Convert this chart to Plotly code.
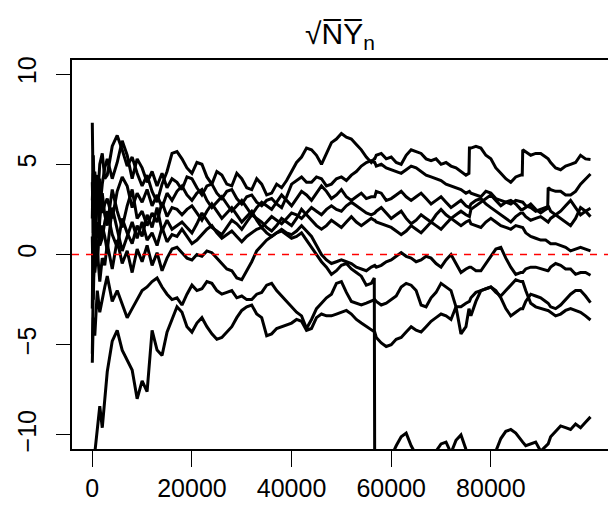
import plotly.graph_objects as go

# sample index n, in thousands (extra pairs mark the sudden jumps)
n_k = ([0, 0.2, 0.5, 1, 1.5, 2, 2.5] + list(range(3, 57)) + [56.6, 56.7]
       + list(range(57, 76)) + [75.6, 75.7] + list(range(76, 87)) + [86.3, 86.4]
       + list(range(87, 92)) + [91.4, 91.5] + list(range(92, 101)))

# sqrt(N) * running mean for each simulated sequence
path_a = ([7.3, 3.0, 4.6, 2.8, 5.0, 5.6, 4.2]
          + [4.4, 6.0, 6.6, 5.8, 4.9, 5.4, 4.5, 3.8, 4.4, 3.5, 2.9, 3.9, 4.6, 5.6]
          + [5.7, 5.3, 4.8, 4.5, 5.1, 5.0, 4.3, 3.9, 4.6, 4.4, 3.9, 3.8, 4.5, 4.2, 3.7, 3.6, 4.2, 3.9, 3.3, 3.4,
             3.9, 3.7, 4.1, 4.6, 5.1, 5.4, 5.9, 5.8, 5.5, 5.0, 5.6, 6.2, 6.4, 6.7, 6.5, 6.4, 6.1, 5.8, 5.4, 5.1]
          + [5.3, 5.3]
          + [5.5, 5.6, 5.3, 5.4, 5.1, 5.0, 5.5, 5.8, 5.7, 5.6, 5.3, 5.2, 5.3, 5.0, 5.1, 4.9, 4.8, 4.6, 4.4]
          + [4.5, 5.9]
          + [5.9, 6.0, 5.9, 5.5, 5.3, 4.8, 4.5, 4.2, 4.0, 4.3, 4.4]
          + [4.4, 5.8]
          + [5.7, 5.5, 5.6, 5.6, 5.4]
          + [5.3, 5.3]
          + [5.1, 4.8, 4.7, 4.9, 5.0, 5.1, 5.5, 5.3, 5.27])
path_b = ([4.0, 1.2, 3.6, 4.4, 2.5, 3.9, 4.8]
          + [5.3, 4.2, 5.1, 6.3, 5.5, 4.2, 5.3, 4.8, 4.0, 4.6, 3.8, 4.5, 3.7, 4.2]
          + [4.0, 3.6, 4.3, 4.2, 3.7, 3.3, 3.8, 3.9, 3.4, 3.1, 3.5, 3.6, 3.1, 2.8, 3.2, 3.3, 2.9, 2.7, 3.0, 3.1,
             2.8, 2.6, 3.2, 3.9, 4.1, 4.3, 4.0, 4.0, 4.3, 4.2, 3.8, 3.9, 4.2, 4.3, 4.1, 4.4, 4.6, 4.9, 5.1, 5.2]
          + [5.1, 5.1]
          + [4.9, 5.0, 4.8, 4.7, 4.6, 4.5, 4.7, 4.9, 4.8, 4.6, 4.4, 4.3, 4.2, 4.1, 3.9, 3.8, 3.7, 3.6, 3.4]
          + [3.5, 3.5]
          + [3.4, 3.3, 3.2, 3.5, 3.4, 3.1, 3.0, 2.9, 2.8, 3.0, 2.9]
          + [2.9, 2.9]
          + [2.7, 2.6, 2.4, 2.5, 2.6]
          + [2.5, 3.7]
          + [3.6, 3.5, 3.5, 3.3, 3.3, 3.5, 3.9, 4.2, 4.46])
path_c = ([-3.0, 2.5, 0.8, 2.9, 4.2, 2.3, 2.8]
          + [3.1, 2.0, 3.5, 4.3, 3.8, 2.6, 3.4, 2.9, 3.6, 2.7, 3.3, 2.6, 3.4, 3.0]
          + [3.5, 3.8, 3.3, 3.0, 3.4, 3.6, 3.0, 2.6, 2.9, 3.2, 2.8, 2.4, 2.7, 3.0, 2.6, 2.2, 2.6, 2.9, 2.7, 2.5,
             2.9, 3.3, 3.0, 2.7, 3.1, 3.5, 3.3, 3.0, 3.4, 3.8, 3.5, 3.1, 3.3, 3.6, 3.2, 3.0, 3.2, 3.4, 3.1, 3.2]
          + [3.2, 3.2]
          + [3.5, 3.4, 3.0, 3.1, 3.3, 3.5, 3.2, 3.0, 3.2, 3.4, 3.1, 2.8, 3.0, 3.2, 2.9, 2.6, 2.8, 3.0, 2.7]
          + [2.6, 2.6]
          + [2.8, 3.0, 3.1, 2.8, 2.6, 2.4, 2.2, 2.0, 1.8, 2.1, 2.3]
          + [2.3, 2.3]
          + [2.1, 1.9, 2.0, 2.1, 1.9]
          + [1.8, 1.8]
          + [2.0, 2.2, 2.4, 2.7, 3.0, 2.6, 2.2, 2.4, 2.56])
path_d = ([1.0, -2.5, 1.5, -0.6, 1.9, 3.4, 2.2]
          + [1.6, 3.6, 2.4, 1.5, 2.7, 3.6, 2.0, 2.4, 1.6, 2.3, 1.8, 2.9, 2.1, 2.6]
          + [2.5, 2.2, 2.5, 2.7, 2.3, 1.9, 2.4, 2.8, 2.4, 2.0, 2.3, 2.6, 2.2, 1.8, 2.1, 2.4, 1.9, 1.5, 1.8, 2.1,
             1.9, 1.7, 2.0, 2.3, 2.2, 2.0, 2.3, 2.6, 2.4, 2.2, 2.5, 2.7, 2.5, 2.4, 2.7, 2.9, 2.7, 2.5, 2.3, 2.2]
          + [2.3, 2.3]
          + [2.4, 2.6, 2.3, 2.0, 2.2, 2.4, 2.0, 1.7, 1.9, 2.2, 2.0, 1.8, 2.2, 2.5, 2.2, 2.0, 2.2, 2.4, 2.2]
          + [2.1, 2.1]
          + [2.5, 2.7, 2.9, 3.1, 3.3, 3.0, 2.7, 2.9, 3.0, 2.8, 2.5]
          + [2.5, 2.5]
          + [2.6, 2.8, 2.5, 2.3, 2.5]
          + [2.7, 2.7]
          + [2.4, 2.2, 2.0, 1.8, 1.6, 2.0, 2.6, 2.4, 2.1])
path_e = ([-5.5, -1.5, 0.2, 1.8, 0.5, 0.9, 1.8]
          + [2.4, 1.1, 0.4, 2.0, 1.2, 0.6, 1.6, 1.0, 2.2, 1.5, 2.6, 1.3, 1.9, 1.4]
          + [1.6, 1.8, 1.5, 1.2, 1.7, 2.3, 1.9, 1.5, 1.3, 1.1, 1.5, 1.9, 1.7, 1.4, 1.8, 2.2, 2.0, 1.8, 1.5, 1.3,
             1.6, 2.0, 1.8, 1.6, 2.0, 2.5, 2.2, 1.9, 1.6, 1.4, 1.6, 1.9, 1.7, 1.5, 1.8, 2.1, 1.8, 1.6, 1.8, 2.0]
          + [1.9, 1.9]
          + [1.8, 1.7, 1.6, 1.5, 1.3, 1.1, 1.3, 1.6, 1.4, 1.2, 1.5, 1.8, 1.6, 1.4, 1.7, 2.0, 1.8, 1.6, 1.8]
          + [1.9, 1.9]
          + [1.7, 1.6, 1.5, 1.8, 2.0, 1.8, 1.6, 1.5, 1.4, 1.6, 1.5]
          + [1.5, 1.5]
          + [1.2, 1.0, 0.9, 0.8, 0.8]
          + [0.7, 0.7]
          + [0.6, 0.6, 0.5, 0.4, 0.2, 0.3, 0.4, 0.3, 0.2])
path_f = ([3.0, 4.5, -1.0, 0.3, -1.5, -0.2, -0.6]
          + [0.6, -0.8, 0.8, -0.5, 0.2, -1.0, 0.3, -0.4, 0.5, -0.6, 0.1, -0.9, -0.2, 0.3]
          + [0.4, 0.1, -0.2, -0.3, 0.0, -0.1, 0.2, 0.1, -0.2, -0.5, -0.8, -0.9, -1.3, -1.4, -0.9, -0.4, 0.2, 0.5, 0.8, 1.0,
             1.2, 1.4, 1.2, 1.1, 1.3, 1.6, 1.3, 1.0, 0.5, 0.0, -0.3, -0.5, -0.4, -0.3, -0.4, -0.5, -0.7, -0.8, -0.9, -0.7]
          + [-0.6, -0.6]
          + [-0.7, -0.6, -0.4, -0.3, -0.1, 0.1, -0.1, -0.2, -0.4, -0.3, -0.1, -0.2, -0.5, -0.7, -0.3, 0.0, -0.5, -1.0, -0.8]
          + [-0.7, -0.7]
          + [-0.7, -0.9, -0.9, -0.5, -0.1, 0.3, 0.4, -0.2, -0.7, -1.1, -1.0]
          + [-1.0, -1.0]
          + [-0.8, -0.7, -0.7, -0.8, -0.9]
          + [-0.9, -0.9]
          + [-0.7, -0.5, -0.6, -0.8, -0.8, -1.1, -1.0, -1.0, -1.15])
path_g = ([-6.0, -3.5, -4.5, -2.0, -3.2, -2.4, -1.8]
          + [-1.2, -2.6, -2.0, -2.7, -3.5, -3.0, -2.5, -2.0, -1.8, -1.5, -1.3, -1.8, -2.2, -2.5]
          + [-2.4, -2.8, -2.2, -1.7, -2.0, -1.9, -1.5, -1.6, -2.0, -2.2, -2.1, -2.0, -2.4, -2.3, -2.5, -2.5, -2.2, -2.1, -1.7, -1.6,
             -2.0, -2.3, -2.6, -2.9, -3.2, -3.4, -4.1, -3.6, -3.0, -2.7, -2.4, -2.2, -1.6, -1.5, -2.1, -2.6, -2.7, -2.8, -2.7, -2.6]
          + [-2.5, -2.5]
          + [-2.6, -2.8, -2.7, -2.5, -2.3, -1.8, -1.6, -1.7, -2.0, -2.8, -2.9, -2.4, -2.1, -1.6, -1.8, -2.0, -2.9, -2.9, -2.7]
          + [-2.6, -2.6]
          + [-2.4, -2.1, -2.0, -1.9, -1.8, -2.0, -2.4, -3.0, -3.4, -3.2, -3.0]
          + [-3.0, -3.0]
          + [-2.6, -2.2, -2.3, -2.4, -2.6]
          + [-2.7, -2.7]
          + [-2.9, -3.0, -2.8, -2.5, -2.2, -2.0, -2.0, -2.3, -2.67])
path_h = ([-14.0, -12.0, -11.0, -9.5, -8.4, -9.6, -8.0]
          + [-6.5, -4.8, -4.2, -5.3, -5.9, -6.4, -8.0, -7.0, -7.6, -4.2, -5.3, -5.6, -4.3, -3.6]
          + [-2.9, -3.2, -4.0, -4.3, -3.8, -3.5, -4.0, -4.4, -4.7, -4.6, -4.3, -4.0, -3.5, -3.1, -2.9, -2.8, -3.3, -3.5, -4.5, -4.4,
             -4.1, -4.0, -3.9, -3.8, -3.6, -3.7, -4.2, -4.1, -3.5, -3.3, -3.4, -3.4, -3.3, -3.2, -3.1, -3.3, -3.6, -3.8, -4.0, -4.2]
          + [-4.3, -4.3]
          + [-4.6, -4.9, -5.1, -5.0, -4.7, -4.6, -4.3, -4.0, -4.2, -4.3, -4.0, -3.7, -3.5, -3.3, -3.4, -3.6, -2.9, -4.4, -4.0]
          + [-3.0, -3.1]
          + [-3.4, -2.6, -2.0, -1.9, -1.8, -2.1, -2.3, -2.0, -1.7, -1.4, -1.5]
          + [-1.5, -1.5]
          + [-2.0, -2.7, -2.9, -3.0, -3.1]
          + [-3.1, -3.1]
          + [-3.2, -3.4, -3.3, -3.1, -3.0, -3.1, -3.2, -3.4, -3.63])
path_i = ([2.0, 5.5, 2.2, 4.0, 0.8, 1.6, 1.0]
          + [0.2, 2.6, 1.4, 0.2, 1.0, 1.8, 0.9, 1.8, 0.8, 1.2, 0.5, 1.5, 0.7, 1.1]
          + [1.0, 1.4, 1.0, 0.6, 0.8, 1.1, 1.4, 1.6, 1.2, 0.9, 1.1, 1.3, 1.0, 0.7, 1.0, 1.2, 1.4, 1.5, 1.2, 1.0,
             1.2, 1.3, 1.1, 0.9, 1.0, 1.2, 0.8, 0.4, 0.0, -0.4, -0.7, -1.1, -0.9, -0.6, -0.5, -0.8, -1.0, -1.2, -1.7, -1.6]
          + [-1.3, -14.0]
          + [-13.5, -12.5, -11.8, -11.2, -10.6, -10.1, -9.9, -10.6, -11.1, -11.5, -11.6, -11.3, -10.9, -10.5, -10.4, -11.0, -10.3, -10.0, -10.8]
          + [-11.2, -11.2]
          + [-11.4, -11.5, -11.5, -11.3, -11.2, -10.9, -10.2, -9.8, -9.7, -9.9, -10.3]
          + [-10.4, -10.4]
          + [-10.6, -10.5, -10.4, -10.9, -10.6]
          + [-10.5, -10.5]
          + [-10.1, -9.8, -9.5, -9.6, -9.7, -9.4, -9.6, -9.3, -9.0])

paths = [path_a, path_b, path_c, path_d, path_e, path_f, path_g, path_h, path_i]

x_ticks = [0, 20000, 40000, 60000, 80000]
y_ticks = [-10, -5, 0, 5, 10]

n_values = [v * 1000 for v in n_k]

fig = go.Figure()
for ys in paths:
    fig.add_trace(go.Scatter(
        x=n_values, y=ys, mode="lines",
        line=dict(color="black", width=3.0),
        hoverinfo="skip", showlegend=False,
    ))

# reference level at zero
fig.add_shape(type="line", xref="paper", yref="y", x0=0, x1=1, y0=0, y1=0,
              line=dict(color="#ff0000", width=1.6, dash="7px,7px"), layer="above")

font_family = "Liberation Sans, Arial, Helvetica, sans-serif"

fig.update_layout(
    width=608, height=510,
    margin=dict(l=72, r=0, t=60, b=61, autoexpand=False),
    paper_bgcolor="white", plot_bgcolor="white",
    font=dict(family=font_family, size=25, color="black"),
    annotations=[dict(
        text="\u221aN\u0305Y\u0305<sub>n</sub>",
        xref="paper", yref="paper", x=0.5, y=1, yshift=4,
        xanchor="center", yanchor="bottom", showarrow=False,
        font=dict(family=font_family, size=30, color="black"),
    )],
)
fig.update_xaxes(
    range=[-4075, 103512], showgrid=False, zeroline=False,
    showline=True, mirror=True, linecolor="black", linewidth=1.6,
    ticks="outside", ticklen=16, tickwidth=1.4, tickcolor="black",
    tickvals=x_ticks, ticktext=[str(v) for v in x_ticks],
    automargin=False,
)
fig.update_yaxes(
    range=[-10.78, 10.78], showgrid=False, zeroline=False,
    showline=True, mirror=False, linecolor="black", linewidth=1.6,
    ticks="outside", ticklen=14, tickwidth=1.4, tickcolor="black",
    tickvals=y_ticks, ticktext=[str(v).replace("-", "\u2212") for v in y_ticks],
    tickangle=-90, ticklabelstandoff=10, automargin=False,
)

fig.write_html("out.html")
